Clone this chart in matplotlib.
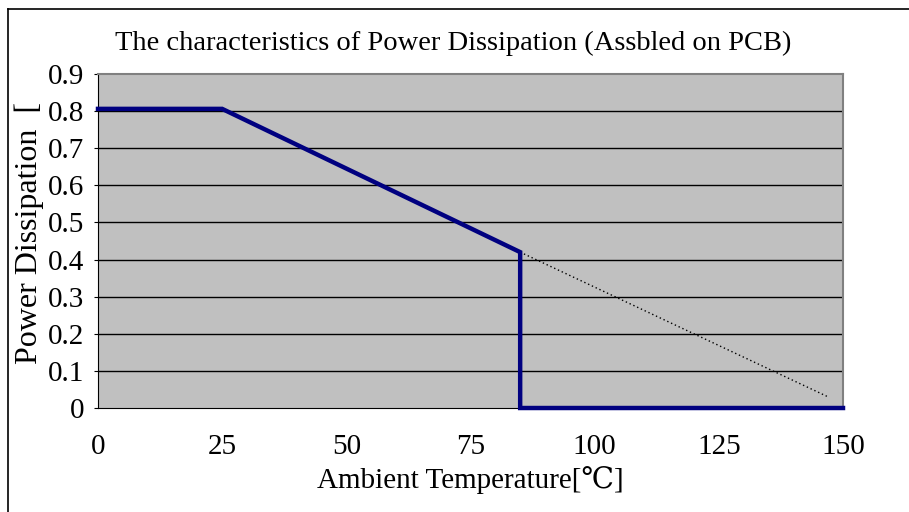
import matplotlib
matplotlib.use("Agg")
import matplotlib.pyplot as plt
from matplotlib.lines import Line2D

# derating curve (ambient temperature in degC, power in W)
temp = [0, 25, 85, 85, 150]
power = [0.806, 0.806, 0.42, 0, 0]

# dotted extension of the slope past the cut-off
ext_temp = [85, 147]
ext_power = [0.42, 0.03]

x_ticks = [0, 25, 50, 75, 100, 125, 150]
y_ticks = [0, 0.1, 0.2, 0.3, 0.4, 0.5, 0.6, 0.7, 0.8, 0.9]

FONT = ["Liberation Serif", "DejaVu Serif", "Noto Sans CJK JP"]
plt.rcParams["font.family"] = FONT

fig = plt.figure(figsize=(9.09, 5.12), dpi=100)
ax = fig.add_axes([0.1078, 0.2031, 0.8196, 0.6524])
ax.set_facecolor("#c0c0c0")

for y in y_ticks[1:-1]:
    ax.axhline(y, color="black", linewidth=1.0, zorder=1)

ax.plot(ext_temp, ext_power, color="black", linewidth=1.0, linestyle=(0, (1, 2)), zorder=2)
ax.plot(temp, power, color="#000080", linewidth=3.2, solid_joinstyle="miter", zorder=3, clip_on=False)

ax.set_xlim(0, 150)
ax.set_ylim(0, 0.9)
ax.set_xticks(x_ticks)
ax.set_xticklabels([str(t) for t in x_ticks])
ax.set_yticks(y_ticks)
ax.set_yticklabels(["0"] + [f"{v:.1f}" for v in y_ticks[1:]])
ax.tick_params(axis="x", length=0, pad=19, labelsize=21)
ax.tick_params(axis="y", length=3, pad=7, labelsize=21)

for side in ["top", "right"]:
    ax.spines[side].set_color("#808080")
    ax.spines[side].set_linewidth(1.5)
ax.spines["left"].set_color("black")
ax.spines["bottom"].set_color("black")

ax.set_title("The characteristics of Power Dissipation (Assbled on PCB)", fontsize=20.5, pad=17)
ax.title.set_x(0.4765)
ax.set_xlabel("Ambient Temperature[\u2103]", fontsize=21, labelpad=4)
ax.set_ylabel("Power Dissipation  [", fontsize=23)
ax.yaxis.set_label_coords(-0.0725, 0.524)

# outer chart border
fig.add_artist(Line2D([8 / 909, 8 / 909], [0, 1 - 9 / 512], transform=fig.transFigure, color="black", linewidth=1.2))
fig.add_artist(Line2D([8 / 909, 1], [1 - 9 / 512, 1 - 9 / 512], transform=fig.transFigure, color="black", linewidth=1.2))

fig.savefig("out.png", dpi=100)
